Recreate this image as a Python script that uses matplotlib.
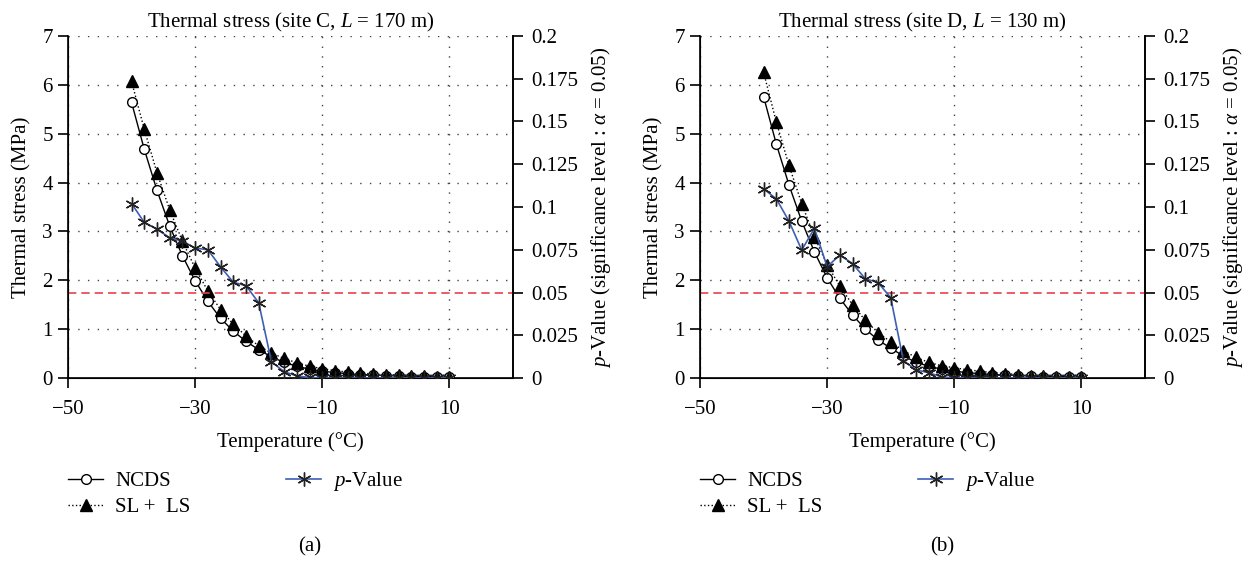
import matplotlib
matplotlib.use("Agg")
import matplotlib.pyplot as plt
from matplotlib.ticker import MultipleLocator, FixedLocator, FuncFormatter

plt.rcParams["font.family"] = ["Liberation Serif", "DejaVu Serif"]
plt.rcParams["mathtext.fontset"] = "custom"
plt.rcParams["mathtext.rm"] = "Liberation Serif"
plt.rcParams["mathtext.it"] = "Liberation Serif:italic"
plt.rcParams["font.size"] = 15

# temperature (degC)
temps = [-40, -38, -36, -34, -32, -30, -28, -26, -24, -22, -20, -18, -16,
         -14, -12, -10, -8, -6, -4, -2, 0, 2, 4, 6, 8, 10]
xticks = [-50, -30, -10, 10]

# site C, L = 170 m
ncds_c = [5.64, 4.68, 3.84, 3.11, 2.50, 1.99, 1.57, 1.22, 0.96, 0.75, 0.58, 0.43, 0.32,
          0.24, 0.18, 0.14, 0.11, 0.09, 0.07, 0.06, 0.05, 0.04, 0.03, 0.03, 0.02, 0.02]
slls_c = [6.07, 5.09, 4.20, 3.44, 2.80, 2.25, 1.78, 1.40, 1.10, 0.86, 0.66, 0.51, 0.40,
          0.31, 0.24, 0.19, 0.15, 0.12, 0.10, 0.08, 0.07, 0.06, 0.05, 0.04, 0.03, 0.02]
pval_c = [0.102, 0.091, 0.087, 0.082, 0.080, 0.076, 0.075, 0.065, 0.056, 0.054, 0.044,
          0.0095, 0.0037, 0.0012, 0.0003, 0, 0, 0, 0, 0, 0, 0, 0, 0, 0, 0]

# site D, L = 130 m
ncds_d = [5.76, 4.79, 3.95, 3.21, 2.58, 2.05, 1.63, 1.29, 1.00, 0.78, 0.61, 0.45, 0.32,
          0.24, 0.18, 0.14, 0.11, 0.09, 0.07, 0.06, 0.05, 0.04, 0.03, 0.03, 0.02, 0.02]
slls_d = [6.26, 5.24, 4.35, 3.57, 2.89, 2.32, 1.88, 1.50, 1.18, 0.93, 0.74, 0.56, 0.42,
          0.32, 0.25, 0.21, 0.17, 0.14, 0.11, 0.09, 0.07, 0.05, 0.04, 0.03, 0.03, 0.02]
pval_d = [0.1106, 0.1048, 0.0917, 0.0748, 0.0875, 0.0651, 0.0719, 0.0669, 0.058, 0.0558,
          0.047, 0.0100, 0.0048, 0.0030, 0.0007, 0, 0, 0, 0, 0, 0, 0, 0, 0, 0, 0]

titles = [r"Thermal stress (site C, $L$ = 170 m)", r"Thermal stress (site D, $L$ = 130 m)"]
panel_tags = ["(a)", "(b)"]
alpha_level = 0.05

W, H = 1252, 564
fig = plt.figure(figsize=(W / 100, H / 100), dpi=100)

BLUE = "#3d5fb5"
RED = "#e8414b"
FS = 15


def panel(x0, ncds, slls, pval, title, tag):
    ax = fig.add_axes([x0 / W, (H - 378) / H, 445 / W, 342 / H])
    ax.plot(temps, ncds, "-", color="black", lw=1.0, marker="o", ms=7,
            mfc="white", mec="black", mew=1.0, label="NCDS", zorder=3)
    ax.plot(temps, slls, ":", color="black", lw=1.0, marker="^", ms=8,
            mfc="black", mec="black", label="SL +  LS", zorder=4)
    ax.set_xlim(-50, 20)
    ax.set_ylim(0, 7)
    ax.xaxis.set_major_locator(FixedLocator(xticks))
    ax.yaxis.set_major_locator(MultipleLocator(1))
    ax.grid(True, linestyle=(0, (1, 6)), color="#444444", lw=1.0)
    ax.spines["top"].set_visible(False)
    for s in ["left", "bottom", "right"]:
        ax.spines[s].set_linewidth(1.2)
    ax.tick_params(direction="out", length=7, width=1.2, labelsize=FS, pad=4)
    ax.tick_params(axis="x", pad=9)
    ax.set_xlabel("Temperature (°C)", fontsize=FS, labelpad=9)
    ax.set_ylabel("Thermal stress (MPa)", fontsize=FS, labelpad=8)
    ax.set_title(title, fontsize=FS, pad=6)

    ax2 = ax.twinx()
    ax2.plot(temps, pval, "-", color=BLUE, lw=1.2, marker=(6, 2, 0), ms=10,
             mec="#222222", mew=1.0, label=r"$p$-Value", zorder=5)
    ax2.axhline(alpha_level, color=RED, lw=1.2, linestyle=(0, (5, 3)))
    ax2.set_ylim(0, 0.2)
    ax2.yaxis.set_major_locator(MultipleLocator(0.025))
    ax2.yaxis.set_major_formatter(FuncFormatter(lambda v, p: f"{v:g}"))
    ax2.spines["top"].set_visible(False)
    ax2.spines["right"].set_linewidth(1.2)
    ax2.tick_params(direction="out", length=7, width=1.2, labelsize=FS, pad=6)
    ax2.set_ylabel(r"$p$-Value (significance level : $\alpha$ = 0.05)", fontsize=FS, labelpad=8)

    h1, l1 = ax.get_legend_handles_labels()
    h2, l2 = ax2.get_legend_handles_labels()
    ax.legend(h1 + h2, l1 + l2, loc="upper left", bbox_to_anchor=(0, -0.27),
              ncol=2, frameon=False, borderaxespad=0, borderpad=0,
              handlelength=1.7, handletextpad=0.55, columnspacing=4.6,
              labelspacing=0.3, fontsize=FS)
    fig.text((x0 + 242) / W, 1 - 547 / H, tag, ha="center", va="center", fontsize=FS)


panel(68, ncds_c, slls_c, pval_c, titles[0], panel_tags[0])
panel(700, ncds_d, slls_d, pval_d, titles[1], panel_tags[1])

fig.savefig("out.png", dpi=100)
